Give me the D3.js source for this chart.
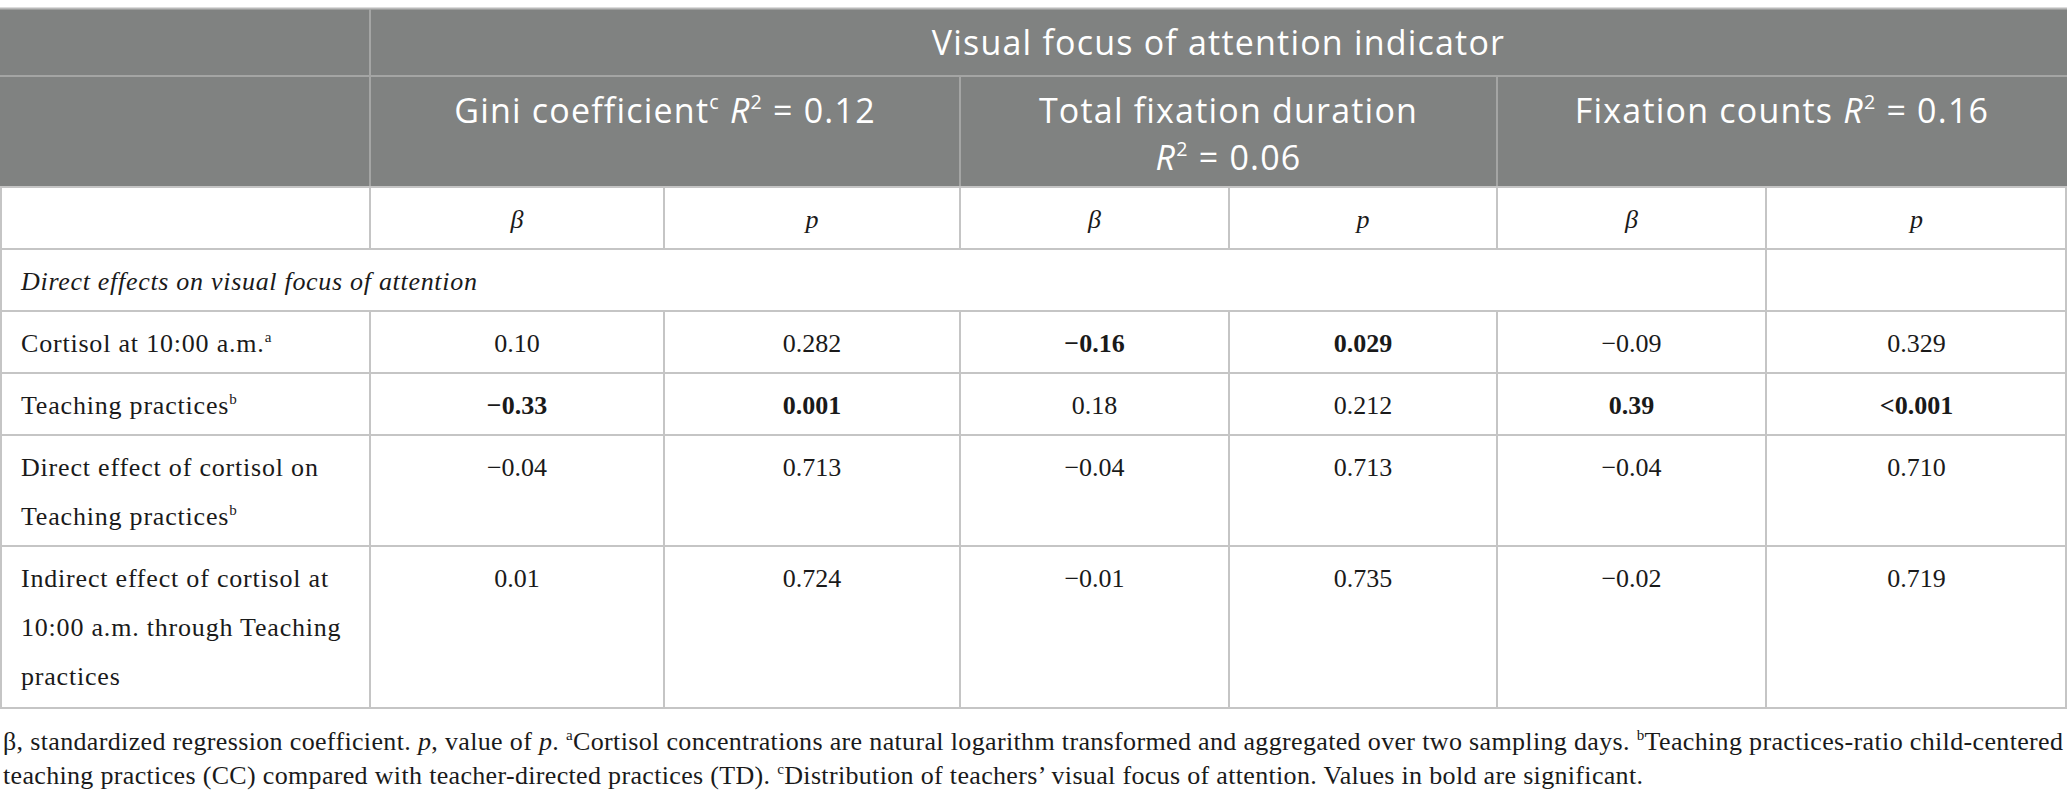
<!DOCTYPE html>
<html>
<head>
<meta charset="utf-8">
<script src="https://cdn.jsdelivr.net/npm/d3@7/dist/d3.min.js"></script>
<style>
  body { margin: 0; background: #fff; }
  svg { display: block; }
</style>
</head>
<body>
<svg id="table"></svg>
<script>
// ---- table content ----
const spannerTitle = "Visual focus of attention indicator";
const groupNames = ["Gini coefficient", "Total fixation duration", "Fixation counts"];
const groupNotes = ["c", "", ""];
const groupR2 = ["0.12", "0.06", "0.16"];
const statNames = ["β", "p"];
const sectionTitle = "Direct effects on visual focus of attention";

const rowLabels = [
  ["Cortisol at 10:00 a.m."],
  ["Teaching practices"],
  ["Direct effect of cortisol on", "Teaching practices"],
  ["Indirect effect of cortisol at", "10:00 a.m. through Teaching", "practices"]
];
const rowNotes = ["a", "b", "b", ""];

const giniBeta = ["0.10", "−0.33", "−0.04", "0.01"];
const giniP = ["0.282", "0.001", "0.713", "0.724"];
const tfdBeta = ["−0.16", "0.18", "−0.04", "−0.01"];
const tfdP = ["0.029", "0.212", "0.713", "0.735"];
const fcBeta = ["−0.09", "0.39", "−0.04", "−0.02"];
const fcP = ["0.329", "<0.001", "0.710", "0.719"];
// which values are printed in bold (significant)
const giniSig = [false, true, false, false];
const tfdSig = [true, false, false, false];
const fcSig = [false, true, false, false];

const footLine1 = [
  {t: "β, standardized regression coefficient. "}, {t: "p", i: true}, {t: ", value of "}, {t: "p", i: true},
  {t: ". "}, {t: "a", sup: true},
  {t: "Cortisol concentrations are natural logarithm transformed and aggregated over two sampling days. "},
  {t: "b", sup: true}, {t: "Teaching practices-ratio child-centered"}
];
const footLine2 = [
  {t: "teaching practices (CC) compared with teacher-directed practices (TD). "}, {t: "c", sup: true},
  {t: "Distribution of teachers’ visual focus of attention. Values in bold are significant."}
];

// ---- layout ----
const W = 2067, H = 801;
const colEdges = [0, 370, 664, 960, 1229, 1497, 1766, 2067];
const rowEdges = [9, 76, 187, 249, 311, 373, 435, 546, 708];
const x = d3.scaleLinear().domain(d3.range(colEdges.length)).range(colEdges);
const y = d3.scaleLinear().domain(d3.range(rowEdges.length)).range(rowEdges);

const sans = "'Open Sans', 'Noto Sans', sans-serif";
const serif = "'Liberation Serif', 'Times New Roman', serif";
const headFill = "#808281";
const headLine = "#a4a5a4";
const bodyLine = "#c5c5c5";
const ink = "#1a1a1a";

const svg = d3.select("#table").attr("width", W).attr("height", H);

// write a list of runs into a text element (italic / bold / superscript)
function addRuns(text, runs, size) {
  let raised = false;
  runs.forEach(r => {
    const ts = text.append("tspan").text(r.t);
    if (r.i) ts.attr("font-style", "italic");
    if (r.b) ts.attr("font-weight", "bold");
    if (r.sup) {
      ts.attr("font-size", size * 0.58).attr("dy", -size * 0.4);
      raised = true;
    } else if (raised) {
      ts.attr("dy", size * 0.4);
      raised = false;
    }
  });
}

// header background
svg.append("rect")
  .attr("x", x(0)).attr("y", y(0))
  .attr("width", x(7) - x(0)).attr("height", y(2) - y(0))
  .attr("fill", headFill);
svg.append("line")
  .attr("x1", 0).attr("x2", W).attr("y1", y(0) - 0.5).attr("y2", y(0) - 0.5)
  .attr("stroke", "#b9b9b9").attr("stroke-width", 2);

// header rules
const headRules = svg.append("g").attr("stroke", headLine).attr("stroke-width", 2);
headRules.append("line").attr("x1", 0).attr("x2", W).attr("y1", y(1)).attr("y2", y(1));
headRules.append("line").attr("x1", x(1)).attr("x2", x(1)).attr("y1", y(0)).attr("y2", y(2));
[3, 5].forEach(c => headRules.append("line")
  .attr("x1", x(c)).attr("x2", x(c)).attr("y1", y(1)).attr("y2", y(2)));

const headSize = 34;
const headSpacing = 1.2;

// spanner
svg.append("text")
  .attr("x", (x(1) + x(7)) / 2).attr("y", y(0) + 46)
  .attr("text-anchor", "middle").attr("fill", "#fff")
  .attr("font-family", sans).attr("font-size", headSize)
  .attr("letter-spacing", headSpacing)
  .text(spannerTitle);

// group headers, wrapped when they do not fit the column
groupNames.forEach((name, g) => {
  const c0 = 1 + g * 2, c1 = c0 + 2;
  const cx = (x(c0) + x(c1)) / 2;
  const avail = x(c1) - x(c0) - 60;
  const t = svg.append("text")
    .attr("x", cx).attr("y", y(1) + 47)
    .attr("text-anchor", "middle").attr("fill", "#fff")
    .attr("font-family", sans).attr("font-size", headSize)
    .attr("letter-spacing", headSpacing);
  const r2 = [{t: "R", i: true}, {t: "2", sup: true}, {t: " = " + groupR2[g]}];
  const runs = [{t: name}].concat(groupNotes[g] ? [{t: groupNotes[g], sup: true}] : []);
  addRuns(t, runs.concat([{t: " "}], r2), headSize);
  if (t.node().getComputedTextLength() > avail) {
    t.selectAll("tspan").remove();
    addRuns(t, runs, headSize);
    const t2 = svg.append("text")
      .attr("x", cx).attr("y", y(1) + 94)
      .attr("text-anchor", "middle").attr("fill", "#fff")
      .attr("font-family", sans).attr("font-size", headSize)
      .attr("letter-spacing", headSpacing);
    addRuns(t2, r2, headSize);
  }
});

// body rules
const rules = svg.append("g").attr("stroke", bodyLine).attr("stroke-width", 2);
d3.range(2, rowEdges.length).forEach(r => rules.append("line")
  .attr("x1", 0).attr("x2", W).attr("y1", y(r)).attr("y2", y(r)));
[0, 7].forEach(c => rules.append("line")
  .attr("x1", c === 0 ? 1 : W - 1).attr("x2", c === 0 ? 1 : W - 1)
  .attr("y1", y(2)).attr("y2", y(8)));
d3.range(1, 7).forEach(c => {
  rules.append("line").attr("x1", x(c)).attr("x2", x(c)).attr("y1", y(2)).attr("y2", y(3));
  rules.append("line").attr("x1", x(c)).attr("x2", x(c)).attr("y1", y(4)).attr("y2", y(8));
});
rules.append("line").attr("x1", x(6)).attr("x2", x(6)).attr("y1", y(3)).attr("y2", y(4));

const bodySize = 26;
const base = 41;

// beta / p row
svg.append("g").selectAll("text")
  .data(d3.range(6))
  .join("text")
  .attr("x", c => (x(c + 1) + x(c + 2)) / 2)
  .attr("y", y(2) + base)
  .attr("text-anchor", "middle")
  .attr("font-family", serif).attr("font-size", bodySize).attr("font-style", "italic")
  .attr("fill", ink)
  .text(c => statNames[c % 2]);

// section title
svg.append("text")
  .attr("x", 21).attr("y", y(3) + base)
  .attr("font-family", serif).attr("font-size", bodySize).attr("font-style", "italic")
  .attr("letter-spacing", 0.7).attr("fill", ink)
  .text(sectionTitle);

// row labels
const lineGap = 49;
rowLabels.forEach((lines, r) => {
  lines.forEach((ln, k) => {
    const t = svg.append("text")
      .attr("x", 21).attr("y", y(4 + r) + base + k * lineGap)
      .attr("font-family", serif).attr("font-size", bodySize)
      .attr("letter-spacing", 0.8).attr("fill", ink);
    const runs = [{t: ln}];
    if (k === lines.length - 1 && rowNotes[r]) runs.push({t: rowNotes[r], sup: true});
    addRuns(t, runs, bodySize);
  });
});

// values
const columns = [
  {v: giniBeta, s: giniSig}, {v: giniP, s: giniSig},
  {v: tfdBeta, s: tfdSig}, {v: tfdP, s: tfdSig},
  {v: fcBeta, s: fcSig}, {v: fcP, s: fcSig}
];
const cells = [];
columns.forEach((col, c) => col.v.forEach((val, r) => cells.push({c, r, val, bold: col.s[r]})));

svg.append("g").selectAll("text")
  .data(cells)
  .join("text")
  .attr("x", d => (x(d.c + 1) + x(d.c + 2)) / 2)
  .attr("y", d => y(4 + d.r) + base)
  .attr("text-anchor", "middle")
  .attr("font-family", serif).attr("font-size", bodySize)
  .attr("font-weight", d => d.bold ? "bold" : "normal")
  .attr("fill", ink)
  .text(d => d.val);

// footnote
const footSize = 26;
[[footLine1, 750, 2060], [footLine2, 784, 1640]].forEach(([runs, yy, len]) => {
  const t = svg.append("text")
    .attr("x", 3).attr("y", yy)
    .attr("font-family", serif).attr("font-size", footSize)
    .attr("fill", ink);
  addRuns(t, runs, footSize);
  t.attr("textLength", len).attr("lengthAdjust", "spacing");
});
</script>
</body>
</html>
